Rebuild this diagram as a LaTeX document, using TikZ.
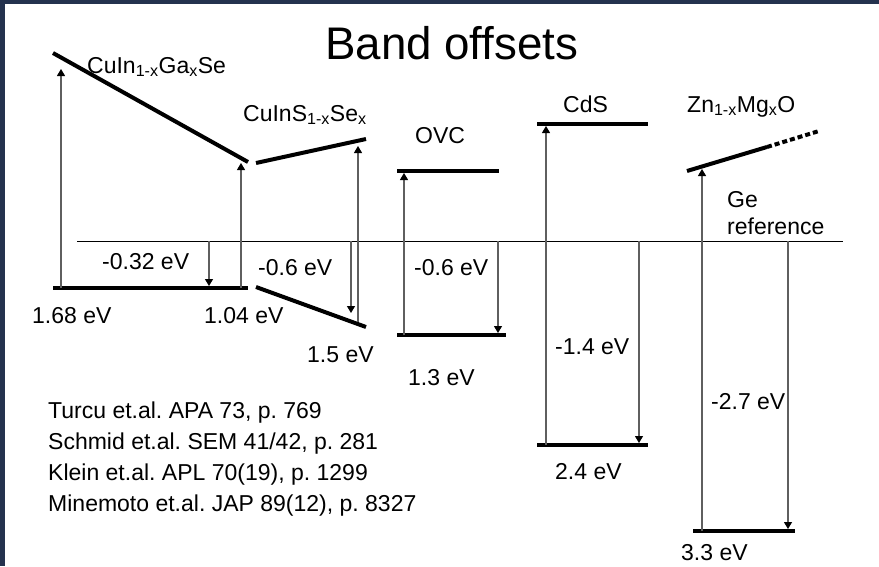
\documentclass[tikz,border=0pt]{standalone}
\usepackage{fontspec}
\setmainfont{Liberation Sans}
\usetikzlibrary{arrows.meta}
\definecolor{cFrame}{RGB}{36,50,78}
\definecolor{cArrow}{RGB}{95,95,95}
\tikzset{
	level/.style={line width=4pt, draw=black},
	arr/.style={-{Triangle[length=7pt,width=8pt,color=black]}, line width=1.1pt,
		draw=cArrow},
	refline/.style={line width=0.9pt, draw=black},
	lbl/.style={anchor=base west, inner sep=0pt,
		font=\fontsize{23}{27}\selectfont},
}
\frenchspacing
\begin{document}
\begin{tikzpicture}[x=1pt,y=-1pt]
	\useasboundingbox (0,0) rectangle (879,566);
	\fill[white] (0,0) rectangle (879,566);
	\fill[cFrame] (0,0) rectangle (879,4);
	\fill[cFrame] (0,0) rectangle (5,566);

	\node[lbl, font=\fontsize{45.7}{50}\selectfont] (title) at (325,59) {Band offsets};

	% Ge reference level
	\coordinate (geL) at (77,241);
	\coordinate (geR) at (843,241);
	\draw[refline] (geL) -- (geR);
	\node[lbl] (geA) at (727,207) {Ge};
	\node[lbl] (geB) at (727,234) {reference};

	% CuIn(1-x)Ga(x)Se
	\coordinate (cigsCL) at (53,53);
	\coordinate (cigsCR) at (248,162);
	\coordinate (cigsVL) at (53,288);
	\coordinate (cigsVR) at (248,288);
	\draw[level] (cigsCL) -- (cigsCR);
	\draw[level] (cigsVL) -- (cigsVR);
	\coordinate (cigsGa) at (61,288);
	\coordinate (cigsGb) at (61,69);
	\coordinate (cigsHa) at (241,288);
	\coordinate (cigsHb) at (241,163);
	\coordinate (cigsOa) at (209,241);
	\coordinate (cigsOb) at (209,286);
	\draw[arr] (cigsGa) -- (cigsGb);
	\draw[arr] (cigsHa) -- (cigsHb);
	\draw[arr] (cigsOa) -- (cigsOb);
	\node[lbl] (cigsName) at (87,73) {CuIn\textsubscript{1-x}Ga\textsubscript{x}Se};
	\node[lbl] (cigsOff) at (102,269) {-0.32 eV};
	\node[lbl] (cigsGapL) at (32,323) {1.68 eV};
	\node[lbl] (cigsGapR) at (204,323) {1.04 eV};

	% CuInS(1-x)Se(x)
	\coordinate (cissCL) at (256,163);
	\coordinate (cissCR) at (366,139);
	\coordinate (cissVL) at (256,287);
	\coordinate (cissVR) at (366,327);
	\draw[level] (cissCL) -- (cissCR);
	\draw[level] (cissVL) -- (cissVR);
	\coordinate (cissOa) at (351,241);
	\coordinate (cissOb) at (351,313);
	\coordinate (cissGa) at (358,322);
	\coordinate (cissGb) at (358,146);
	\draw[arr] (cissOa) -- (cissOb);
	\draw[arr] (cissGa) -- (cissGb);
	\node[lbl] (cissName) at (243,121) {CuInS\textsubscript{1-x}Se\textsubscript{x}};
	\node[lbl] (cissOff) at (258,275) {-0.6 eV};
	\node[lbl] (cissGap) at (307,362) {1.5 eV};

	% OVC
	\coordinate (ovcCL) at (397,171);
	\coordinate (ovcCR) at (499,171);
	\coordinate (ovcVL) at (397,335);
	\coordinate (ovcVR) at (506,335);
	\draw[level] (ovcCL) -- (ovcCR);
	\draw[level] (ovcVL) -- (ovcVR);
	\coordinate (ovcGa) at (404,335);
	\coordinate (ovcGb) at (404,173);
	\coordinate (ovcOa) at (498,241);
	\coordinate (ovcOb) at (498,333);
	\draw[arr] (ovcGa) -- (ovcGb);
	\draw[arr] (ovcOa) -- (ovcOb);
	\node[lbl] (ovcName) at (415,143) {OVC};
	\node[lbl] (ovcOff) at (414,275) {-0.6 eV};
	\node[lbl] (ovcGap) at (408,385) {1.3 eV};

	% CdS
	\coordinate (cdsCL) at (537,124);
	\coordinate (cdsCR) at (648,124);
	\coordinate (cdsVL) at (537,445);
	\coordinate (cdsVR) at (648,445);
	\draw[level] (cdsCL) -- (cdsCR);
	\draw[level] (cdsVL) -- (cdsVR);
	\coordinate (cdsGa) at (546,445);
	\coordinate (cdsGb) at (546,126);
	\coordinate (cdsOa) at (639,241);
	\coordinate (cdsOb) at (639,443);
	\draw[arr] (cdsGa) -- (cdsGb);
	\draw[arr] (cdsOa) -- (cdsOb);
	\node[lbl] (cdsName) at (563,112) {CdS};
	\node[lbl] (cdsOff) at (555,354) {-1.4 eV};
	\node[lbl] (cdsGap) at (555,479) {2.4 eV};

	% Zn(1-x)Mg(x)O
	\coordinate (zmoCL) at (687,171);
	\coordinate (zmoCM) at (767,147);
	\coordinate (zmoCR) at (819,131);
	\coordinate (zmoVL) at (693,531);
	\coordinate (zmoVR) at (795,531);
	\draw[level] (zmoCL) -- (zmoCM);
	\draw[level, dash pattern=on 5pt off 3pt] (zmoCM) -- (zmoCR);
	\draw[level] (zmoVL) -- (zmoVR);
	\coordinate (zmoGa) at (702,531);
	\coordinate (zmoGb) at (702,169);
	\coordinate (zmoOa) at (788,241);
	\coordinate (zmoOb) at (788,529);
	\draw[arr] (zmoGa) -- (zmoGb);
	\draw[arr] (zmoOa) -- (zmoOb);
	\node[lbl] (zmoName) at (687,112) {Zn\textsubscript{1-x}Mg\textsubscript{x}O};
	\node[lbl] (zmoOff) at (711,409) {-2.7 eV};
	\node[lbl] (zmoGap) at (681,560) {3.3 eV};

	% literature
	\foreach \txt [count=\i] in {{Turcu et.al. APA 73, p. 769},
		{Schmid et.al. SEM 41/42, p. 281},
		{Klein et.al. APL 70(19), p. 1299},
		{Minemoto et.al. JAP 89(12), p. 8327}}
		\node[lbl] (lit\i) at (48,418+31*\i-31) {\txt};
\end{tikzpicture}
\end{document}
